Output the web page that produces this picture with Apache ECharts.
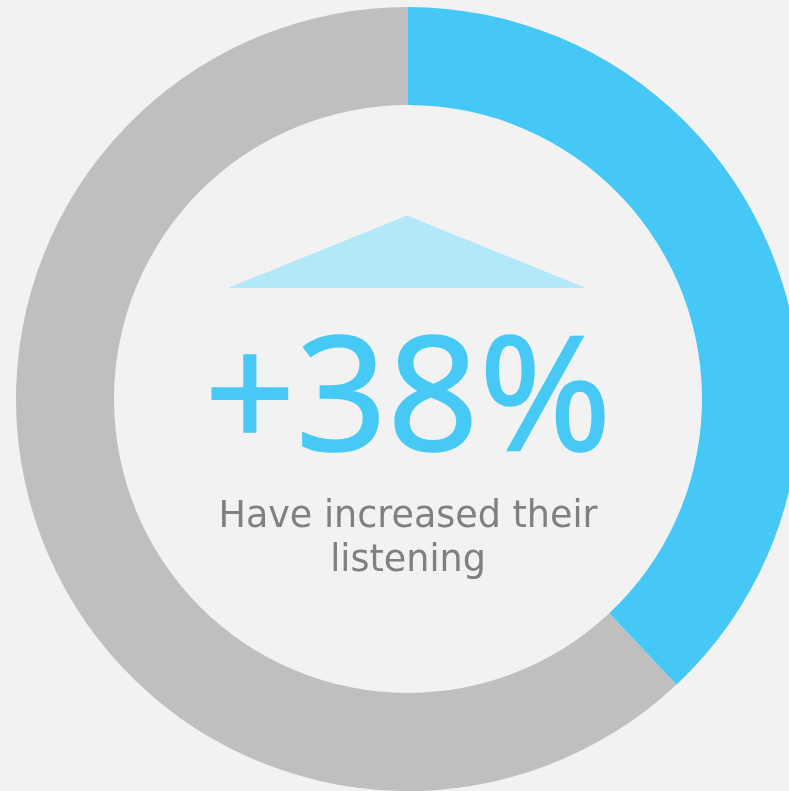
<!DOCTYPE html>
<html>
<head>
<meta charset="utf-8">
<script src="https://cdn.jsdelivr.net/npm/echarts@6/dist/echarts.min.js"></script>
<style>
html,body{margin:0;padding:0;background:#f2f2f2;}
#main{width:789px;height:791px;}
</style>
</head>
<body>
<div id="main"></div>
<script>
const categories = ['Increased listening', 'Other'];
const values = [38, 62];
const headline = '+38%';
const subtitle = 'Have increased their\nlistening';

const colors = ['#45c8f5', '#bfbfbf'];

const chart = echarts.init(document.getElementById('main'), null, {renderer: 'canvas'});
chart.setOption({
  backgroundColor: '#f2f2f2',
  animation: false,
  series: [{
    type: 'pie',
    center: [408, 399],
    radius: [294, 392],
    startAngle: 90,
    clockwise: true,
    label: {show: false},
    labelLine: {show: false},
    emphasis: {disabled: true},
    silent: true,
    data: categories.map((c, i) => ({name: c, value: values[i], itemStyle: {color: colors[i]}}))
  }],
  graphic: [
    {
      type: 'polygon',
      shape: {points: [[228, 288], [407, 215.5], [586, 288]]},
      style: {fill: '#b3e8f9'},
      silent: true
    },
    {
      type: 'text',
      x: 408, y: 404,
      style: {
        text: headline,
        fill: '#47c9f6',
        font: 'normal 160px "Noto Sans"',
        textAlign: 'center',
        textVerticalAlign: 'middle',
        stroke: '#47c9f6',
        lineWidth: 1.5
      },
      silent: true
    },
    {
      type: 'text',
      x: 408, y: 540,
      style: {
        text: subtitle,
        fill: '#808080',
        font: 'normal 36.5px "DejaVu Sans"',
        lineHeight: 44,
        textAlign: 'center',
        textVerticalAlign: 'middle'
      },
      silent: true
    }
  ]
});
</script>
</body>
</html>
